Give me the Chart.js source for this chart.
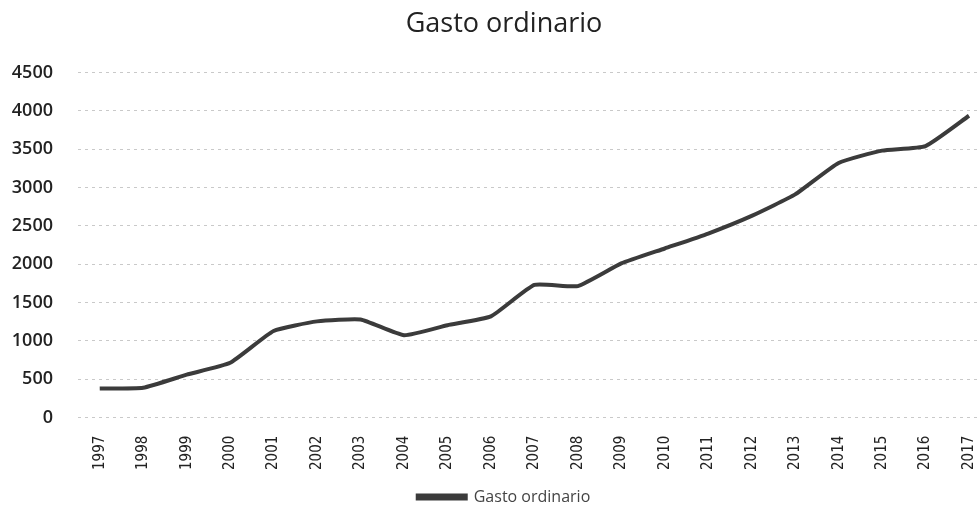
<!DOCTYPE html>
<html lang="es">
<head>
<meta charset="UTF-8">
<title>Gasto ordinario</title>
<script src="https://cdn.jsdelivr.net/npm/chart.js"></script>
<style>
    html, body { margin: 0; padding: 0; background: #fff; overflow: hidden; }
    /* the scan cuts the chart off on the right, so the canvas is a bit wider than the window */
    #wrap { position: absolute; left: 0; top: 0; width: 997px; height: 515px; }
</style>
</head>
<body>
<div id="wrap"><canvas id="chart"></canvas></div>
<script>
    // data
    const years = ['1997', '1998', '1999', '2000', '2001', '2002', '2003', '2004', '2005', '2006', '2007',
                   '2008', '2009', '2010', '2011', '2012', '2013', '2014', '2015', '2016', '2017'];
    const gastoOrdinario = [380, 390, 560, 715, 1130, 1255, 1280, 1075, 1205, 1320, 1730,
                            1715, 2010, 2205, 2400, 2630, 2910, 3320, 3480, 3540, 3935];

    const ctx = document.getElementById('chart').getContext('2d');
    new Chart(ctx, {
        type: 'line',
        data: {
            labels: years,
            datasets: [{
                label: 'Gasto ordinario',
                data: gastoOrdinario,
                borderColor: '#3b3b3b',
                backgroundColor: '#3b3b3b',
                borderWidth: 4,
                pointRadius: 0,
                tension: 0.15
            }]
        },
        options: {
            responsive: true,
            maintainAspectRatio: false,
            animation: false,
            layout: { padding: { left: 11, right: 0, top: 8, bottom: 0 } },
            plugins: {
                title: {
                    display: true,
                    text: 'Gasto ordinario',
                    color: '#222',
                    font: { family: 'Open Sans', size: 27, weight: 'normal' },
                    padding: { top: 0, bottom: 32 }
                },
                legend: {
                    position: 'bottom',
                    labels: {
                        color: '#444',
                        font: { family: 'Open Sans', size: 16 },
                        boxWidth: 48,
                        boxHeight: 3,
                        padding: 9
                    }
                },
                tooltip: { enabled: false }
            },
            scales: {
                x: {
                    offset: true,
                    grid: { display: false },
                    border: { display: false },
                    ticks: {
                        color: '#222',
                        font: { family: 'DejaVu Sans Condensed', size: 15 },
                        minRotation: 90,
                        maxRotation: 90,
                        padding: 10
                    }
                },
                y: {
                    min: 0,
                    max: 4500,
                    afterFit: scale => { scale.width = 67; },
                    ticks: {
                        stepSize: 500,
                        color: '#222',
                        font: { family: 'Open Sans', size: 18, weight: '600' },
                        padding: 25,
                        callback: v => String(v)
                    },
                    grid: { color: '#c9c9c9', drawTicks: false },
                    border: { display: false, dash: [3, 4] }
                }
            }
        }
    });
</script>
</body>
</html>
